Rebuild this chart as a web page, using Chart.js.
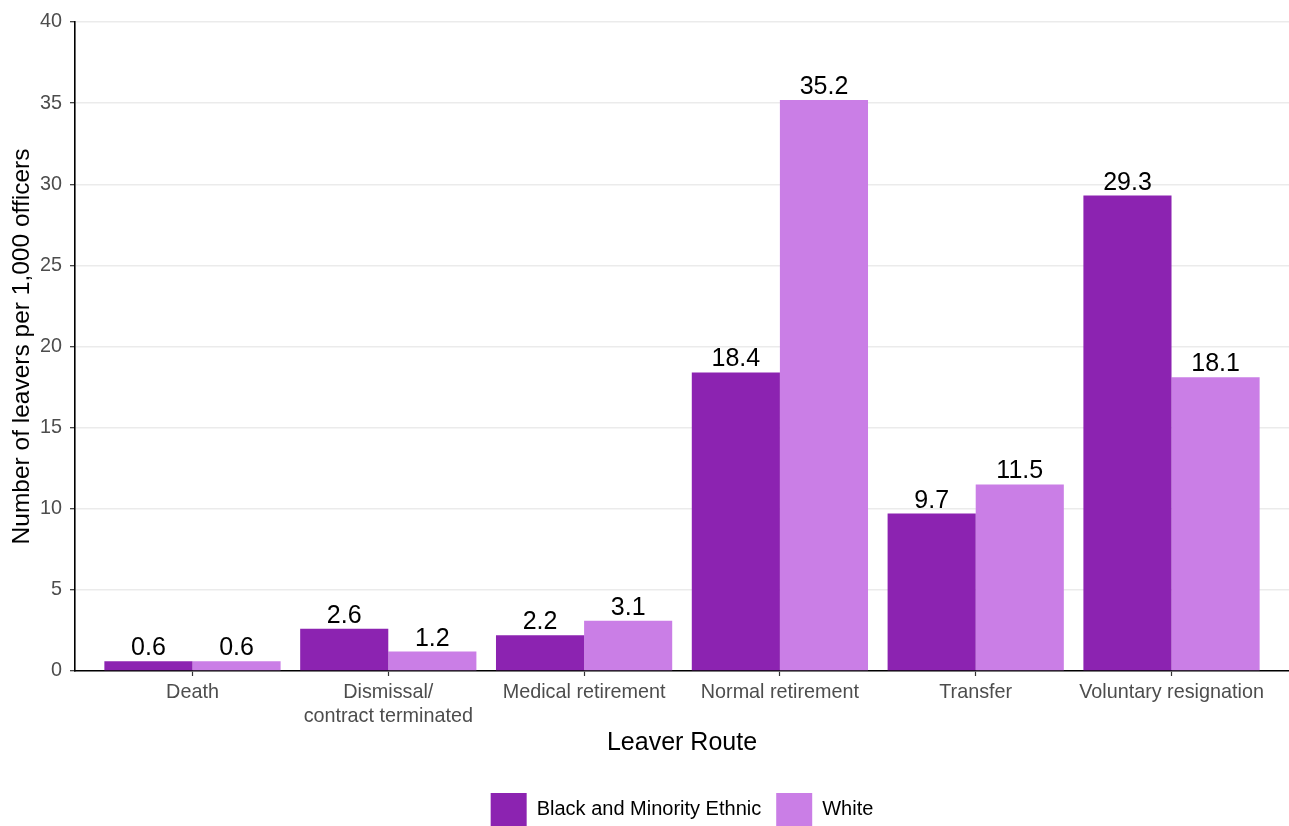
<!DOCTYPE html>
<html>
<head>
<meta charset="utf-8">
<script src="https://cdn.jsdelivr.net/npm/chart.js"></script>
<style>
  html, body { margin: 0; padding: 0; background: #fff; }
  #wrap { width: 1289px; height: 826px; position: relative; }
</style>
</head>
<body>
<div id="wrap"><canvas id="leaversChart"></canvas></div>

<script>
    // values
    const categories = ['Death', 'Dismissal/\ncontract terminated', 'Medical retirement',
                        'Normal retirement', 'Transfer', 'Voluntary resignation'];
    const bmeValues = [0.6, 2.6, 2.2, 18.4, 9.7, 29.3];
    const whiteValues = [0.6, 1.2, 3.1, 35.2, 11.5, 18.1];
    const seriesNames = ['Black and Minority Ethnic', 'White'];
    const yTicks = [0, 5, 10, 15, 20, 25, 30, 35, 40];

    const FONT = "'Liberation Sans', Arial, sans-serif";

    // draws the value above each bar
    const valueLabels = {
        id: 'valueLabels',
        afterDatasetsDraw(chart) {
            const ctx = chart.ctx;
            ctx.save();
            ctx.font = '25px ' + FONT;
            ctx.fillStyle = '#000';
            ctx.textAlign = 'center';
            ctx.textBaseline = 'alphabetic';
            chart.data.datasets.forEach((ds, i) => {
                chart.getDatasetMeta(i).data.forEach((bar, j) => {
                    ctx.fillText(ds.data[j].y.toFixed(1), bar.x, bar.y - 6);
                });
            });
            ctx.restore();
        }
    };

    const toPoints = arr => arr.map((v, i) => ({ x: i + 1, y: v }));

    const ctx = document.getElementById('leaversChart').getContext('2d');
    const leaversChart = new Chart(ctx, {
        type: 'bar',
        data: {
            datasets: [{
                label: seriesNames[0],
                data: toPoints(bmeValues),
                backgroundColor: '#8c23b1'
            }, {
                label: seriesNames[1],
                data: toPoints(whiteValues),
                backgroundColor: '#ca7ee6'
            }]
        },
        options: {
            responsive: true,
            maintainAspectRatio: false,
            animation: false,
            categoryPercentage: 0.9,
            barPercentage: 1.0,
            layout: { padding: { top: 22, right: 0, left: 0, bottom: -10 } },
            plugins: {
                tooltip: { enabled: false },
                legend: {
                    position: 'bottom',
                    fullSize: false,
                    labels: {
                        boxWidth: 36,
                        boxHeight: 33,
                        padding: 15,
                        color: '#000',
                        font: { family: FONT, size: 20 }
                    }
                }
            },
            scales: {
                x: {
                    type: 'linear',
                    min: 0.4,
                    max: 6.6,
                    offset: false,
                    z: 1,
                    afterBuildTicks: scale => {
                        scale.ticks = categories.map((c, i) => ({ value: i + 1 }));
                    },
                    afterFit: scale => { scale.height = 107; },
                    grid: {
                        offset: false,
                        drawOnChartArea: false,
                        drawTicks: true,
                        tickLength: 5,
                        tickColor: '#333',
                        tickWidth: 1.2
                    },
                    border: { color: '#000', width: 1.6 },
                    ticks: {
                        autoSkip: false,
                        maxRotation: 0,
                        padding: 5,
                        color: '#4d4d4d',
                        font: { family: FONT, size: 19.8 },
                        callback: v => categories[v - 1] ? categories[v - 1].split('\n') : ''
                    },
                    title: {
                        display: true,
                        text: 'Leaver Route',
                        color: '#000',
                        font: { family: FONT, size: 25 },
                        padding: { top: 1, bottom: 20 }
                    }
                },
                y: {
                    min: 0,
                    max: 40,
                    afterBuildTicks: scale => {
                        scale.ticks = yTicks.map(v => ({ value: v }));
                    },
                    afterFit: scale => { scale.width = 75; },
                    grid: {
                        color: '#ebebeb',
                        lineWidth: 1.4,
                        tickLength: 5,
                        tickColor: '#333',
                        tickWidth: 1.2
                    },
                    border: { color: '#000', width: 1.6 },
                    ticks: {
                        padding: 8,
                        color: '#4d4d4d',
                        font: { family: FONT, size: 19.8 }
                    },
                    title: {
                        display: true,
                        text: 'Number of leavers per 1,000 officers',
                        color: '#000',
                        font: { family: FONT, size: 24.5 },
                        padding: { top: 8, bottom: 0 }
                    }
                }
            }
        },
        plugins: [valueLabels]
    });
</script>
</body>
</html>
